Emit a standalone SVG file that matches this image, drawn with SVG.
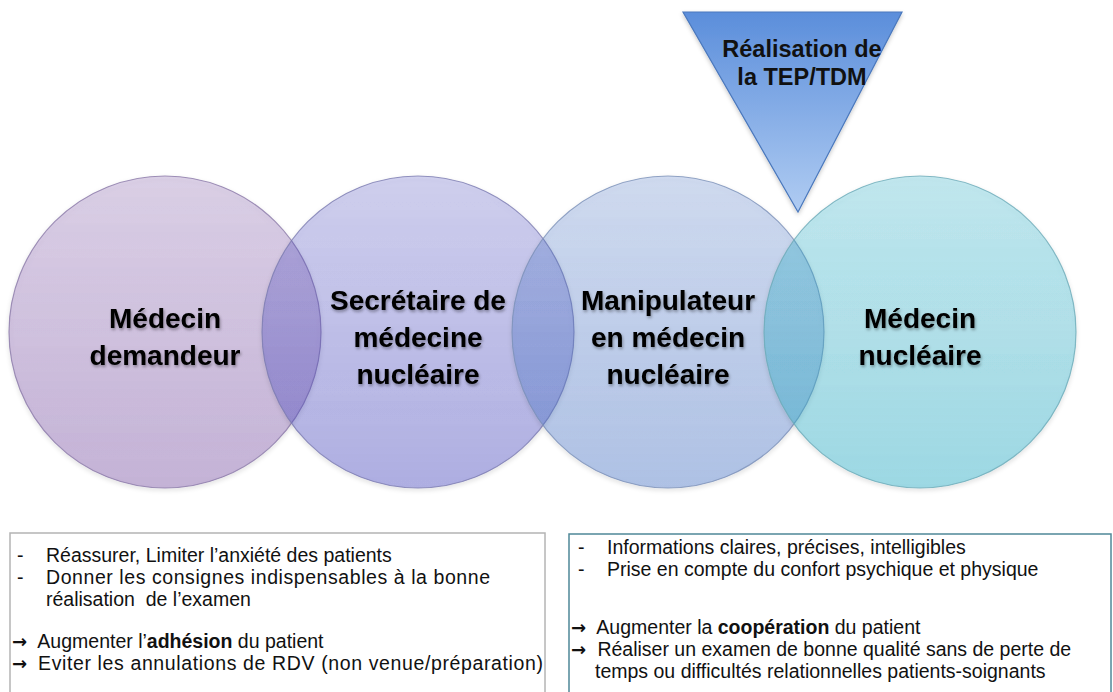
<svg xmlns="http://www.w3.org/2000/svg" width="1113" height="692" viewBox="0 0 1113 692">
<defs>
  <linearGradient id="g1" x1="0" y1="0" x2="0" y2="1">
    <stop offset="0" stop-color="#7648a5" stop-opacity="0.22"/>
    <stop offset="1" stop-color="#7648a5" stop-opacity="0.36"/>
  </linearGradient>
  <linearGradient id="g2" x1="0" y1="0" x2="0" y2="1">
    <stop offset="0" stop-color="#4848c6" stop-opacity="0.22"/>
    <stop offset="1" stop-color="#4848c6" stop-opacity="0.38"/>
  </linearGradient>
  <linearGradient id="g3" x1="0" y1="0" x2="0" y2="1">
    <stop offset="0" stop-color="#4876cd" stop-opacity="0.22"/>
    <stop offset="1" stop-color="#4876cd" stop-opacity="0.38"/>
  </linearGradient>
  <linearGradient id="g4" x1="0" y1="0" x2="0" y2="1">
    <stop offset="0" stop-color="#26b2cd" stop-opacity="0.24"/>
    <stop offset="1" stop-color="#26b2cd" stop-opacity="0.40"/>
  </linearGradient>
  <linearGradient id="gt" x1="0" y1="0" x2="0" y2="1">
    <stop offset="0" stop-color="#5b8edb"/>
    <stop offset="1" stop-color="#b0ccf2"/>
  </linearGradient>
  <filter id="ts" x="-10%" y="-20%" width="120%" height="150%">
    <feDropShadow dx="1" dy="2" stdDeviation="1.5" flood-color="#000" flood-opacity="0.35"/>
  </filter>
  <filter id="sh" x="-10%" y="-10%" width="120%" height="120%">
    <feDropShadow dx="0" dy="2" stdDeviation="2" flood-color="#000" flood-opacity="0.22"/>
  </filter>
</defs>
<style>
  .circ { stroke-width: 1.2; }
  .lbl { font-family: "Liberation Sans", Arial, sans-serif; font-weight: bold; font-size: 28px; fill: #000; text-anchor: middle; }
  .tri { font-family: "Liberation Sans", Arial, sans-serif; font-weight: bold; font-size: 23.5px; fill: #111; text-anchor: middle; }
  .box { fill: #fff; stroke-width: 1.5; }
  .txt { font-family: "Liberation Sans", Arial, sans-serif; font-size: 19.5px; fill: #111; white-space: pre; }
  .arr { font-family: "DejaVu Sans", sans-serif; font-size: 18px; font-weight: bold; }
  .b { font-weight: bold; }
</style>
<rect width="1113" height="692" fill="#fff"/>

<g id="circle1">
  <circle class="circ" cx="165" cy="332" r="156" fill="url(#g1)" stroke="#8a78a8" stroke-opacity="0.8" filter="url(#sh)"/>
  <text class="lbl" filter="url(#ts)"><tspan x="165" y="328">Médecin</tspan><tspan x="165" y="365">demandeur</tspan></text>
</g>
<g id="circle2">
  <circle class="circ" cx="418" cy="332" r="156" fill="url(#g2)" stroke="#7a7ab0" stroke-opacity="0.8" filter="url(#sh)"/>
  <text class="lbl" filter="url(#ts)"><tspan x="418" y="310">Secrétaire de</tspan><tspan x="418" y="347">médecine</tspan><tspan x="418" y="384">nucléaire</tspan></text>
</g>
<g id="circle3">
  <circle class="circ" cx="668" cy="332" r="156" fill="url(#g3)" stroke="#7a90b8" stroke-opacity="0.8" filter="url(#sh)"/>
  <text class="lbl" filter="url(#ts)"><tspan x="668" y="310">Manipulateur</tspan><tspan x="668" y="347">en médecin</tspan><tspan x="668" y="384">nucléaire</tspan></text>
</g>
<g id="circle4">
  <circle class="circ" cx="920" cy="332" r="156" fill="url(#g4)" stroke="#6aaab8" stroke-opacity="0.8" filter="url(#sh)"/>
  <text class="lbl" filter="url(#ts)"><tspan x="920" y="328">Médecin</tspan><tspan x="920" y="365">nucléaire</tspan></text>
</g>

<g id="triangle">
  <polygon points="683,12 902,12 798,212" fill="url(#gt)" stroke="#4a78bd" stroke-width="1.2" filter="url(#sh)"/>
  <text class="tri"><tspan x="802" y="57">Réalisation de</tspan><tspan x="802" y="85">la TEP/TDM</tspan></text>
</g>

<g id="connectors"></g>

<g id="box-left">
  <rect class="box" x="10" y="533" width="535" height="175" stroke="#b4b4b4"/>
  <text class="txt"><tspan x="17" y="562">-</tspan><tspan x="46" y="562">Réassurer, Limiter l’anxiété des patients</tspan></text>
  <text class="txt"><tspan x="17" y="584">-</tspan><tspan x="46" y="584" textLength="444" lengthAdjust="spacing">Donner les consignes indispensables à la bonne</tspan></text>
  <text class="txt" x="46" y="606">réalisation  de l’examen</text>
  <text class="txt" y="648"><tspan class="arr" x="12">→</tspan><tspan x="33"> Augmenter l’<tspan class="b">adhésion</tspan> du patient</tspan></text>
  <text class="txt" y="670"><tspan class="arr" x="12">→</tspan><tspan x="38" textLength="505" lengthAdjust="spacing">Eviter les annulations de RDV (non venue/préparation)</tspan></text>
</g>

<g id="box-right">
  <rect class="box" x="569" y="534" width="542" height="175" stroke="#4f8898"/>
  <text class="txt"><tspan x="578" y="554">-</tspan><tspan x="607" y="554">Informations claires, précises, intelligibles</tspan></text>
  <text class="txt"><tspan x="578" y="576">-</tspan><tspan x="607" y="576">Prise en compte du confort psychique et physique</tspan></text>
  <text class="txt" y="634"><tspan class="arr" x="571">→</tspan><tspan x="592"> Augmenter la <tspan class="b">coopération</tspan> du patient</tspan></text>
  <text class="txt" y="656"><tspan class="arr" x="571">→</tspan><tspan x="592"> Réaliser un examen de bonne qualité sans de perte de</tspan></text>
  <text class="txt" x="595" y="678">temps ou difficultés relationnelles patients-soignants</text>
</g>
</svg>
